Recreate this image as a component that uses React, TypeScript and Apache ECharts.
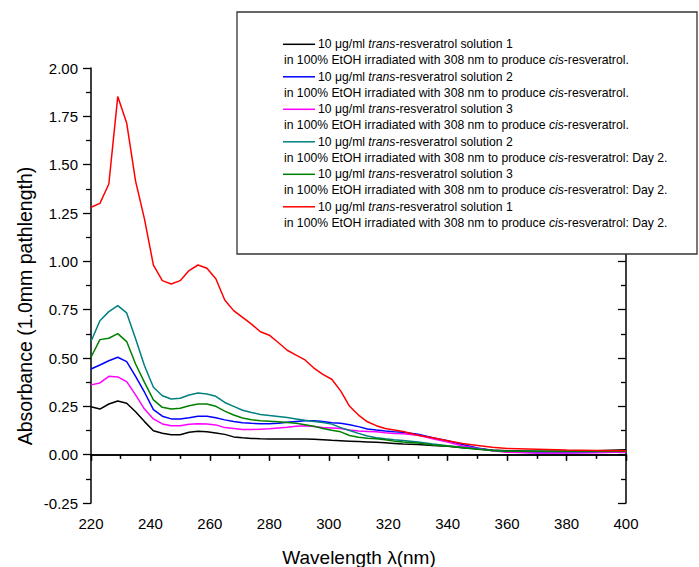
import React, { useEffect, useRef } from "react";
import * as echarts from "echarts";

const wavelengths = [220, 223, 226, 229, 232, 235, 238, 241, 244, 247, 250, 253, 256, 259, 262, 265, 268, 271, 274, 277, 280, 283, 286, 289, 292, 295, 298, 301, 304, 307, 310, 313, 316, 319, 322, 325, 330, 335, 340, 345, 350, 355, 360, 370, 380, 390, 400];

const sol1 = [0.248, 0.236, 0.262, 0.278, 0.266, 0.222, 0.171, 0.124, 0.111, 0.103, 0.103, 0.116, 0.121, 0.119, 0.112, 0.105, 0.092, 0.087, 0.084, 0.082, 0.081, 0.081, 0.081, 0.081, 0.081, 0.08, 0.077, 0.074, 0.072, 0.07, 0.068, 0.066, 0.064, 0.061, 0.058, 0.055, 0.052, 0.048, 0.043, 0.036, 0.03, 0.024, 0.02, 0.018, 0.018, 0.02, 0.025];
const sol2 = [0.443, 0.464, 0.486, 0.504, 0.481, 0.405, 0.323, 0.233, 0.199, 0.185, 0.185, 0.191, 0.199, 0.199, 0.191, 0.18, 0.172, 0.165, 0.162, 0.16, 0.16, 0.163, 0.168, 0.172, 0.176, 0.175, 0.171, 0.165, 0.162, 0.155, 0.145, 0.133, 0.127, 0.122, 0.118, 0.116, 0.106, 0.088, 0.072, 0.053, 0.035, 0.022, 0.015, 0.01, 0.01, 0.012, 0.015];
const sol3 = [0.361, 0.371, 0.405, 0.402, 0.378, 0.309, 0.236, 0.185, 0.159, 0.15, 0.15, 0.157, 0.16, 0.159, 0.154, 0.14, 0.135, 0.13, 0.13, 0.132, 0.134, 0.138, 0.142, 0.147, 0.15, 0.146, 0.14, 0.138, 0.135, 0.127, 0.122, 0.12, 0.118, 0.113, 0.11, 0.108, 0.1, 0.082, 0.065, 0.045, 0.032, 0.02, 0.012, 0.008, 0.008, 0.01, 0.014];
const sol2Day2 = [0.585, 0.693, 0.74, 0.771, 0.733, 0.599, 0.46, 0.349, 0.305, 0.288, 0.292, 0.309, 0.319, 0.314, 0.302, 0.27, 0.25, 0.23, 0.218, 0.208, 0.203, 0.198, 0.192, 0.185, 0.178, 0.172, 0.166, 0.158, 0.14, 0.125, 0.11, 0.097, 0.088, 0.082, 0.077, 0.073, 0.065, 0.055, 0.046, 0.038, 0.03, 0.022, 0.018, 0.016, 0.016, 0.016, 0.018];
const sol3Day2 = [0.504, 0.595, 0.602, 0.626, 0.585, 0.469, 0.374, 0.283, 0.245, 0.236, 0.24, 0.253, 0.262, 0.262, 0.25, 0.225, 0.205, 0.19, 0.181, 0.176, 0.173, 0.17, 0.167, 0.162, 0.155, 0.147, 0.135, 0.126, 0.118, 0.099, 0.09, 0.085, 0.082, 0.077, 0.07, 0.065, 0.06, 0.05, 0.045, 0.036, 0.028, 0.021, 0.018, 0.018, 0.018, 0.018, 0.018];
const sol1Day2 = [1.28, 1.3, 1.4, 1.852, 1.716, 1.415, 1.218, 0.98, 0.9, 0.883, 0.9, 0.952, 0.981, 0.964, 0.91, 0.8, 0.745, 0.71, 0.675, 0.636, 0.618, 0.58, 0.54, 0.515, 0.49, 0.448, 0.415, 0.39, 0.33, 0.25, 0.205, 0.17, 0.15, 0.135, 0.128, 0.12, 0.1, 0.088, 0.072, 0.058, 0.048, 0.038, 0.032, 0.028, 0.024, 0.022, 0.02];

const seriesNames = [
  "solution 1",
  "solution 2",
  "solution 3",
  "solution 2 Day 2",
  "solution 3 Day 2",
  "solution 1 Day 2",
];
const seriesValues = [sol1, sol2, sol3, sol2Day2, sol3Day2, sol1Day2];
const seriesColors = ["#000000", "#0000ff", "#ff00ff", "#008080", "#008000", "#ff0000"];
const legendLine1 = [
  "10 μg/ml {i|trans}-resveratrol solution 1",
  "10 μg/ml {i|trans}-resveratrol solution 2",
  "10 μg/ml {i|trans}-resveratrol solution 3",
  "10 μg/ml {i|trans}-resveratrol solution 2",
  "10 μg/ml {i|trans}-resveratrol solution 3",
  "10 μg/ml {i|trans}-resveratrol solution 1",
];
const legendLine2 = [
  "in 100% EtOH irradiated with 308 nm to produce {i|cis}-resveratrol.",
  "in 100% EtOH irradiated with 308 nm to produce {i|cis}-resveratrol.",
  "in 100% EtOH irradiated with 308 nm to produce {i|cis}-resveratrol.",
  "in 100% EtOH irradiated with 308 nm to produce {i|cis}-resveratrol: Day 2.",
  "in 100% EtOH irradiated with 308 nm to produce {i|cis}-resveratrol: Day 2.",
  "in 100% EtOH irradiated with 308 nm to produce {i|cis}-resveratrol: Day 2.",
];

const xTitle = "Wavelength λ(nm)";
const yTitle = "Absorbance (1.0mm pathlength)";

const FONT = "'Liberation Sans', Arial, sans-serif";
const LEG_FS = 12.2;

export default function App() {
  const ref = useRef<HTMLDivElement>(null);
  useEffect(() => {
    if (!ref.current) return;
    const chart = echarts.init(ref.current, null, { renderer: "svg" });
    const axisLine = { show: true, lineStyle: { color: "#000", width: 1.5 } };
    const legendEls: any[] = [
      {
        type: "rect",
        shape: { x: 237, y: 12, width: 460, height: 242 },
        style: { fill: "#fff", stroke: "#333", lineWidth: 1.3 },
        z: 100,
      },
    ];
    seriesNames.forEach((_, i) => {
      const y1 = 44.3 + i * 32.5;
      const y2 = 60.3 + i * 32.5;
      legendEls.push({
        type: "line",
        shape: { x1: 283, y1: y1, x2: 315, y2: y1 },
        style: { stroke: seriesColors[i], lineWidth: 1.5 },
        z: 101,
      });
      legendEls.push({
        type: "text",
        x: 318,
        y: y1,
        style: {
          text: legendLine1[i],
          fontSize: LEG_FS,
          fontFamily: FONT,
          fill: "#000",
          verticalAlign: "middle",
          rich: { i: { fontStyle: "italic", fontSize: LEG_FS, fontFamily: FONT, fill: "#000" } },
        },
        z: 101,
      });
      legendEls.push({
        type: "text",
        x: 284,
        y: y2,
        style: {
          text: legendLine2[i],
          fontSize: LEG_FS,
          fontFamily: FONT,
          fill: "#000",
          verticalAlign: "middle",
          rich: { i: { fontStyle: "italic", fontSize: LEG_FS, fontFamily: FONT, fill: "#000" } },
        },
        z: 101,
      });
    });
    legendEls.push({
      type: "text",
      x: 359,
      y: 557,
      style: { text: xTitle, fontSize: 19, fontFamily: FONT, fill: "#000", align: "center", verticalAlign: "middle" },
      z: 101,
    });
    legendEls.push({
      type: "text",
      x: 25,
      y: 306,
      rotation: Math.PI / 2,
      style: { text: yTitle, fontSize: 19.5, fontFamily: FONT, fill: "#000", align: "center", verticalAlign: "middle" },
      z: 101,
    });

    chart.setOption({
      animation: false,
      backgroundColor: "#fff",
      grid: { left: 91, right: 73, top: 68, bottom: 64, containLabel: false },
      xAxis: [
        {
          type: "value",
          min: 220,
          max: 400,
          interval: 20,
          position: "bottom",
          axisLine,
          axisTick: { show: true, inside: false, length: 6, lineStyle: { color: "#000", width: 1.3 } },
          minorTick: { show: true, splitNumber: 2, length: 4, lineStyle: { color: "#000", width: 1.3 } },
          axisLabel: { color: "#000", fontSize: 15, fontFamily: FONT, margin: 13 },
          splitLine: { show: false },
        },
        {
          type: "value",
          min: 220,
          max: 400,
          interval: 20,
          position: "top",
          axisLine,
          axisTick: { show: true, inside: true, length: 6, lineStyle: { color: "#000", width: 1.3 } },
          minorTick: { show: true, splitNumber: 2, length: 4, lineStyle: { color: "#000", width: 1.3 } },
          axisLabel: { show: false },
          splitLine: { show: false },
        },
      ],
      yAxis: [
        {
          type: "value",
          min: -0.25,
          max: 2,
          interval: 0.25,
          position: "left",
          axisLine,
          axisTick: { show: true, inside: false, length: 8, lineStyle: { color: "#000", width: 1.3 } },
          minorTick: { show: true, splitNumber: 2, length: 5, lineStyle: { color: "#000", width: 1.3 } },
          axisLabel: {
            color: "#000",
            fontSize: 15,
            fontFamily: FONT,
            margin: 13,
            formatter: (v: number) => v.toFixed(2),
          },
          splitLine: { show: false },
        },
        {
          type: "value",
          min: -0.25,
          max: 2,
          interval: 0.25,
          position: "right",
          axisLine,
          axisTick: { show: true, inside: true, length: 8, lineStyle: { color: "#000", width: 1.3 } },
          minorTick: { show: true, splitNumber: 2, length: 5, lineStyle: { color: "#000", width: 1.3 } },
          axisLabel: { show: false },
          splitLine: { show: false },
        },
      ],
      series: seriesNames.map((name, i) => ({
        name,
        type: "line",
        xAxisIndex: 0,
        yAxisIndex: 0,
        showSymbol: false,
        symbol: "none",
        lineStyle: { color: seriesColors[i], width: 1.5 },
        data: wavelengths.map((w, j) => [w, seriesValues[i][j]]),
      })),
      graphic: { elements: legendEls },
    });
    return () => chart.dispose();
  }, []);
  return (
    <div
      ref={ref}
      style={{ position: "fixed", left: 0, top: 0, width: 699, height: 567 }}
    />
  );
}
